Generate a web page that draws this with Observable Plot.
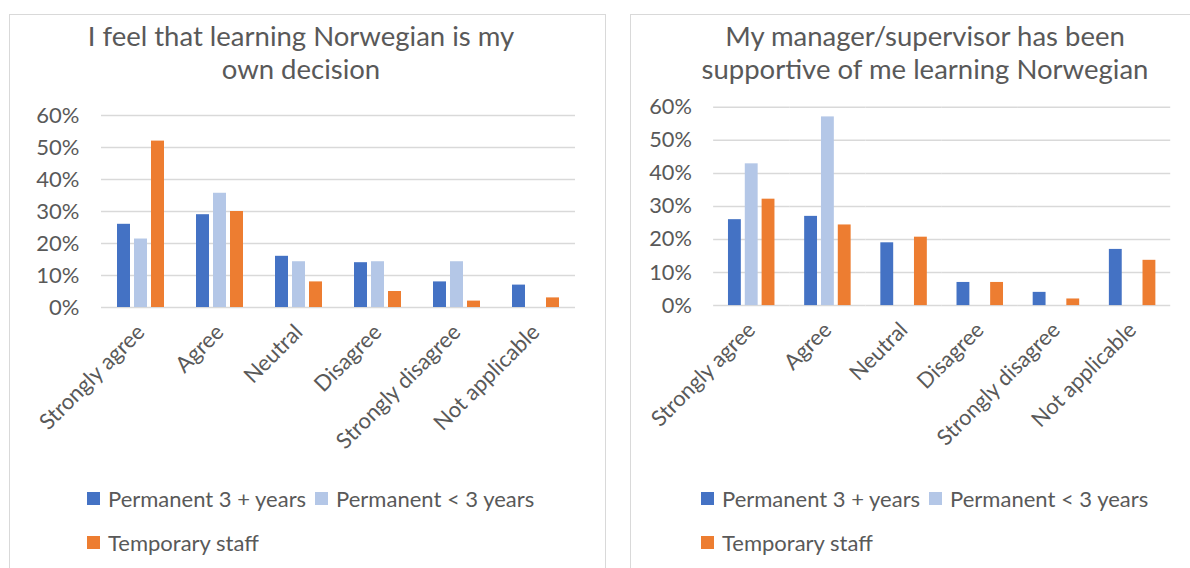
<!DOCTYPE html>
<html>
<head>
<meta charset="utf-8">
<script src="https://cdn.jsdelivr.net/npm/d3@7"></script>
<script src="https://cdn.jsdelivr.net/npm/@observablehq/plot@0.6"></script>
<style>
  html, body { margin: 0; padding: 0; background: #fff; }
  body { width: 1190px; height: 568px; overflow: hidden; position: relative; font-family: Lato, "Noto Sans", sans-serif; color: #595959; }
  .box { position: absolute; top: 14px; height: 620px; border: 1.5px solid #d9d9d9; border-bottom: none; box-sizing: border-box; }
  .title { position: absolute; text-align: center; font-size: 27.5px; line-height: 33px; white-space: nowrap; }
  .chart { position: absolute; }
  .legend { position: absolute; font-size: 22px; }
  .legend .row { display: flex; align-items: center; height: 44px; }
  .legend .item { display: flex; align-items: center; margin-right: 9px; }
  .legend .sw { width: 13px; height: 13px; margin-right: 8px; }
</style>
</head>
<body>
<div class="box" style="left:9px; width:597px;"></div>
<div class="box" style="left:630px; width:600px;"></div>
<div id="t1" class="title" style="left:9px; width:584px; top:19px;"></div>
<div id="t2" class="title" style="left:630px; width:590px; top:19px;"></div>
<div id="c1" class="chart" style="left:11px; top:95px;"></div>
<div id="c2" class="chart" style="left:632px; top:90px;"></div>
<div id="l1" class="legend" style="left:87px; top:476px;"></div>
<div id="l2" class="legend" style="left:701px; top:476px;"></div>
<script>
const categories = ["Strongly agree", "Agree", "Neutral", "Disagree", "Strongly disagree", "Not applicable"];
const seriesNames = ["Permanent 3 + years", "Permanent < 3 years", "Temporary staff"];
const seriesColors = ["#4472c4", "#b4c7e7", "#ed7d31"];
const yTicks = [0, 0.1, 0.2, 0.3, 0.4, 0.5, 0.6];

const title1 = ["I feel that learning Norwegian is my", "own decision"];
const title2 = ["My manager/supervisor has been", "supportive of me learning Norwegian"];

// Chart 1: "I feel that learning Norwegian is my own decision"
const decisionPerm3 = [0.26, 0.29, 0.16, 0.14, 0.08, 0.07];
const decisionPermLt3 = [0.214, 0.357, 0.143, 0.143, 0.143, 0];
const decisionTemp = [0.52, 0.30, 0.08, 0.05, 0.02, 0.03];

// Chart 2: "My manager/supervisor has been supportive of me learning Norwegian"
const supportPerm3 = [0.26, 0.27, 0.19, 0.07, 0.04, 0.17];
const supportPermLt3 = [0.429, 0.571, 0, 0, 0, 0];
const supportTemp = [0.322, 0.244, 0.207, 0.07, 0.02, 0.137];

function toRows(series) {
  const rows = [];
  categories.forEach((c, i) => {
    seriesNames.forEach((s, j) => {
      rows.push({category: c, series: s, value: series[j][i]});
    });
  });
  return rows;
}

function makeChart(series, o) {
  const rows = toRows(series);
  return Plot.plot({
    width: o.width,
    height: o.height,
    marginLeft: o.marginLeft,
    marginRight: o.marginRight,
    marginTop: o.marginTop,
    marginBottom: o.marginBottom,
    style: {fontFamily: "Lato, 'Noto Sans', sans-serif", fontSize: "22px", color: "#595959", background: "transparent", overflow: "visible"},
    fx: {domain: categories, padding: 0, label: null},
    x: {domain: seriesNames, paddingInner: o.pInner, paddingOuter: o.pOuter, axis: null},
    y: {domain: [0, 0.6], label: null},
    color: {domain: seriesNames, range: seriesColors},
    marks: [
      Plot.gridY(yTicks, {stroke: "#d9d9d9", strokeOpacity: 1, strokeWidth: 1.5}),
      Plot.axisY(yTicks, {tickFormat: d3.format(".0%"), tickSize: 0, tickPadding: o.tickPad, label: null, fontSize: 22}),
      Plot.axisFx({anchor: "bottom", tickRotate: -45, tickSize: 0, tickPadding: 21, label: null, fontSize: 22}),
      Plot.barY(rows, {fx: "category", x: "series", y: "value", fill: "series"})
    ]
  });
}

document.getElementById("c1").appendChild(makeChart([decisionPerm3, decisionPermLt3, decisionTemp], {
  width: 594, height: 365, marginLeft: 88, marginRight: 29, marginTop: 20, marginBottom: 153,
  pInner: 0.245, pOuter: 0.88, tickPad: 22
}));
document.getElementById("c2").appendChild(makeChart([supportPerm3, supportPermLt3, supportTemp], {
  width: 564, height: 371, marginLeft: 81, marginRight: 20, marginTop: 17, marginBottom: 153.6,
  pInner: 0.25, pOuter: 0.78, tickPad: 22
}));

function setTitle(id, lines) {
  const el = document.getElementById(id);
  lines.forEach(l => { const d = document.createElement("div"); d.textContent = l; el.appendChild(d); });
}
setTitle("t1", title1);
setTitle("t2", title2);

function setLegend(id) {
  const el = document.getElementById(id);
  const rowsIdx = [[0, 1], [2]];
  rowsIdx.forEach(r => {
    const row = document.createElement("div");
    row.className = "row";
    r.forEach(i => {
      const it = document.createElement("div");
      it.className = "item";
      const sw = document.createElement("div");
      sw.className = "sw";
      sw.style.background = seriesColors[i];
      const tx = document.createElement("span");
      tx.textContent = seriesNames[i];
      it.appendChild(sw); it.appendChild(tx);
      row.appendChild(it);
    });
    el.appendChild(row);
  });
}
setLegend("l1");
setLegend("l2");
</script>
</body>
</html>
